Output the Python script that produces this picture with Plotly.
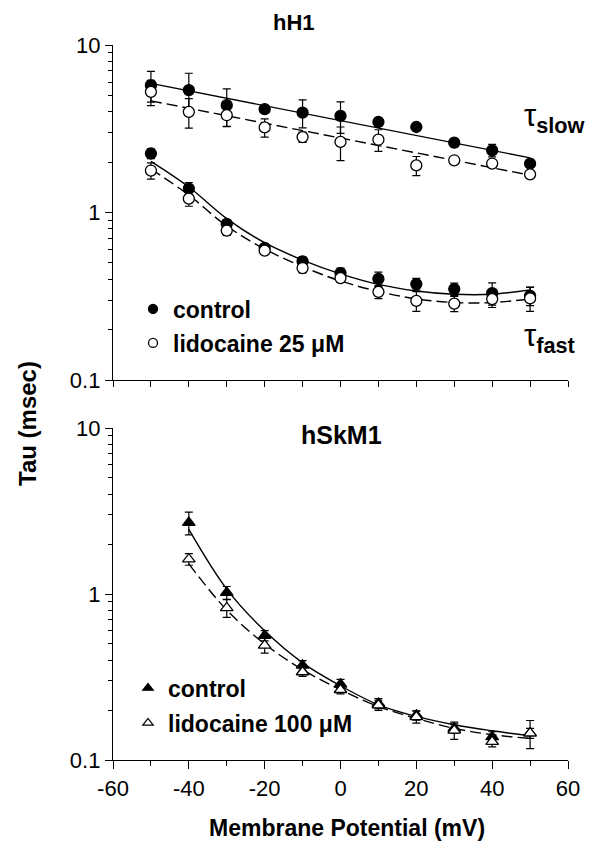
import plotly.graph_objects as go

# ---------------- data ----------------
# hH1 panel (top)
x_h = [-50, -40, -30, -20, -10, 0, 10, 20, 30, 40, 50]
slow_ctrl = [5.76, 5.38, 4.37, 4.14, 3.95, 3.77, 3.47, 3.24, 2.61, 2.35, 1.96]
slow_ctrl_err = [1.2, 1.4, 1.1, 0.1, 0.75, 0.8, 0.2, 0.05, 0.15, 0.2, 0.05]
slow_lido = [5.25, 3.99, 3.81, 3.22, 2.82, 2.64, 2.72, 1.91, 2.05, 1.96, 1.69]
slow_lido_err = [0.9, 0.8, 0.55, 0.4, 0.2, 0.6, 0.4, 0.25, 0.05, 0.05, 0.05]
fast_ctrl = [2.25, 1.39, 0.855, 0.615, 0.511, 0.435, 0.401, 0.374, 0.349, 0.330, 0.318]
fast_ctrl_err = [0.15, 0.12, 0.05, 0.03, 0.03, 0.03, 0.04, 0.03, 0.03, 0.05, 0.04]
fast_lido = [1.78, 1.21, 0.78, 0.592, 0.466, 0.406, 0.336, 0.297, 0.286, 0.304, 0.307]
fast_lido_err = [0.2, 0.12, 0.05, 0.03, 0.03, 0.02, 0.03, 0.04, 0.03, 0.033, 0.05]

# fitted curves
fit_slow_ctrl = [5.9, 2.12]
fit_slow_lido = [4.64, 1.67]
fit_slow_x = [-50, 50]
fit_fast_ctrl = [2.02, 1.42, 0.92, 0.66, 0.52, 0.43, 0.372, 0.34, 0.325, 0.325, 0.345]
fit_fast_lido = [1.82, 1.27, 0.83, 0.605, 0.475, 0.39, 0.338, 0.305, 0.29, 0.29, 0.305]

# hSkM1 panel (bottom)
x_s = [-40, -30, -20, -10, 0, 10, 20, 30, 40, 50]
sk_ctrl = [2.69, 1.02, 0.562, 0.372, 0.286, 0.219, 0.186, 0.155, 0.138, 0.145]
sk_ctrl_err = [0.42, 0.09, 0.04, 0.025, 0.02, 0.015, 0.012, 0.01, 0.01, 0.01]
sk_lido = [1.62, 0.824, 0.49, 0.339, 0.265, 0.214, 0.182, 0.151, 0.129, 0.145]
sk_lido_err = [0.13, 0.1, 0.05, 0.02, 0.015, 0.015, 0.015, 0.018, 0.009, 0.028]
fit_sk_ctrl = [2.45, 1.07, 0.6, 0.385, 0.28, 0.215, 0.183, 0.163, 0.15, 0.14]
fit_sk_lido = [1.52, 0.8, 0.5, 0.35, 0.265, 0.21, 0.178, 0.155, 0.142, 0.135]

x_ticks = [-60, -40, -20, 0, 20, 40, 60]
x_minor = [-50, -30, -10, 10, 30, 50]
y_ticks = [0.1, 1, 10]
y_ticklabels = ["0.1", "1", "10"]
y_minor = [0.2, 0.3, 0.4, 0.5, 0.6, 0.7, 0.8, 0.9, 2, 3, 4, 5, 6, 7, 8, 9]

# page body has an 8px margin, so the figure is a little smaller than the window
OFF = 8
W, H = 601 - OFF, 845 - OFF
FONT = "Liberation Sans, Arial, sans-serif"


def px(p):
    return (p - OFF) / W


def py(q):
    return 1 - (q - OFF) / H


fig = go.Figure()


def err(arr):
    return dict(type="data", array=arr, visible=True, color="black",
                thickness=1.2, width=4)


def pts(x, y, e, symbol, filled, xa, ya):
    fig.add_trace(go.Scatter(
        x=x, y=y, mode="markers", xaxis=xa, yaxis=ya, showlegend=False,
        error_y=err(e),
        marker=dict(symbol=symbol, size=11, color="black" if filled else "white",
                    line=dict(color="black", width=1.3)),
        cliponaxis=False))


def fit(x, y, dash, xa, ya):
    fig.add_trace(go.Scatter(
        x=x, y=y, mode="lines", xaxis=xa, yaxis=ya, showlegend=False,
        line=dict(color="black", width=1.4, dash=dash, shape="spline", smoothing=1.0)))


DASH = "11px,5px"
# top panel fits
fit(fit_slow_x, fit_slow_ctrl, "solid", "x", "y")
fit(fit_slow_x, fit_slow_lido, DASH, "x", "y")
fit(x_h, fit_fast_ctrl, "solid", "x", "y")
fit(x_h, fit_fast_lido, DASH, "x", "y")
# top panel points
pts(x_h, slow_ctrl, slow_ctrl_err, "circle", True, "x", "y")
pts(x_h, slow_lido, slow_lido_err, "circle", False, "x", "y")
pts(x_h, fast_ctrl, fast_ctrl_err, "circle", True, "x", "y")
pts(x_h, fast_lido, fast_lido_err, "circle", False, "x", "y")

# bottom panel
fit(x_s, fit_sk_ctrl, "solid", "x2", "y2")
fit(x_s, fit_sk_lido, DASH, "x2", "y2")
pts(x_s, sk_ctrl, sk_ctrl_err, "triangle-up", True, "x2", "y2")
pts(x_s, sk_lido, sk_lido_err, "triangle-up", False, "x2", "y2")


def leg(name, symbol, filled, legend, panel):
    fig.add_trace(go.Scatter(
        x=[None], y=[None], mode="markers", name=name, legend=legend,
        xaxis="x" if panel == 1 else "x2", yaxis="y" if panel == 1 else "y2",
        marker=dict(symbol=symbol, size=9,
                    color="black" if filled else "white",
                    line=dict(color="black", width=1.3))))


leg("<b>control</b>", "circle", True, "legend", 1)
leg("<b>lidocaine 25 \u03bcM</b>", "circle", False, "legend2", 1)
leg("<b>control</b>", "triangle-up", True, "legend3", 2)
leg("<b>lidocaine 100 \u03bcM</b>", "triangle-up", False, "legend4", 2)

xdom = [px(113), px(568)]
top_dom = [py(380), py(45)]
bot_dom = [py(760), py(428)]

tickfont = dict(family=FONT, size=22, color="black")

common_x = dict(range=[-60, 60], domain=xdom, showline=True, linecolor="black",
                linewidth=1.3, ticks="outside", tickcolor="black", tickwidth=1.3,
                showgrid=False, zeroline=False, tickfont=tickfont)
common_y = dict(type="log", range=[-1, 1], showline=True, linecolor="black",
                linewidth=1.3, ticks="outside", ticklen=7, tickcolor="black",
                tickwidth=1.3, showgrid=False, zeroline=False, tickfont=tickfont,
                tickmode="array", tickvals=y_ticks, ticktext=y_ticklabels,
                minor=dict(ticks="outside", ticklen=4, tickvals=y_minor,
                           tickcolor="black", tickwidth=1.1, showgrid=False))


def legbox(x, y):
    return dict(x=px(x), y=py(y), xanchor="left", yanchor="middle",
                bgcolor="rgba(0,0,0,0)", itemwidth=30,
                font=dict(family=FONT, size=23, color="black"))


def ann(text, x, y, size, xanchor="center", angle=0):
    return dict(text=text, x=px(x), y=py(y), xref="paper", yref="paper",
                xanchor=xanchor, yanchor="middle", showarrow=False,
                textangle=angle, font=dict(family=FONT, size=size, color="black"))


fig.update_layout(
    width=W, height=H,
    margin=dict(l=0, r=0, t=0, b=0, autoexpand=False),
    paper_bgcolor="white", plot_bgcolor="white",
    font=dict(family=FONT, color="black"),
    xaxis=dict(common_x, anchor="y", tickmode="array", tickvals=x_ticks,
               showticklabels=False, ticklen=6,
               minor=dict(ticks="outside", ticklen=6, tickvals=x_minor,
                          tickcolor="black", tickwidth=1.3, showgrid=False)),
    yaxis=dict(common_y, domain=top_dom, anchor="x"),
    xaxis2=dict(common_x, anchor="y2", tickmode="array", tickvals=x_ticks,
                ticktext=[str(v) for v in x_ticks], ticklen=8,
                minor=dict(ticks="outside", ticklen=5, tickvals=x_minor,
                           tickcolor="black", tickwidth=1.3, showgrid=False)),
    yaxis2=dict(common_y, domain=bot_dom, anchor="x2"),
    legend=legbox(133, 309),
    legend2=legbox(133, 343),
    legend3=legbox(128, 688),
    legend4=legbox(128, 723),
    annotations=[
        ann("<b>hH1</b>", 294, 23, 22),
        ann("<b>hSkM1</b>", 341, 435, 25),
        ann("<b>Tau (msec)</b>", 27, 424, 24, angle=-90),
        ann("<b>Membrane Potential (mV)</b>", 347, 828, 23),
        ann("\u03c4<b><sub>slow</sub></b>", 522, 118, 31, xanchor="left"),
        ann("\u03c4<b><sub>fast</sub></b>", 522, 338, 31, xanchor="left"),
    ],
)

fig.write_html("out.html")
